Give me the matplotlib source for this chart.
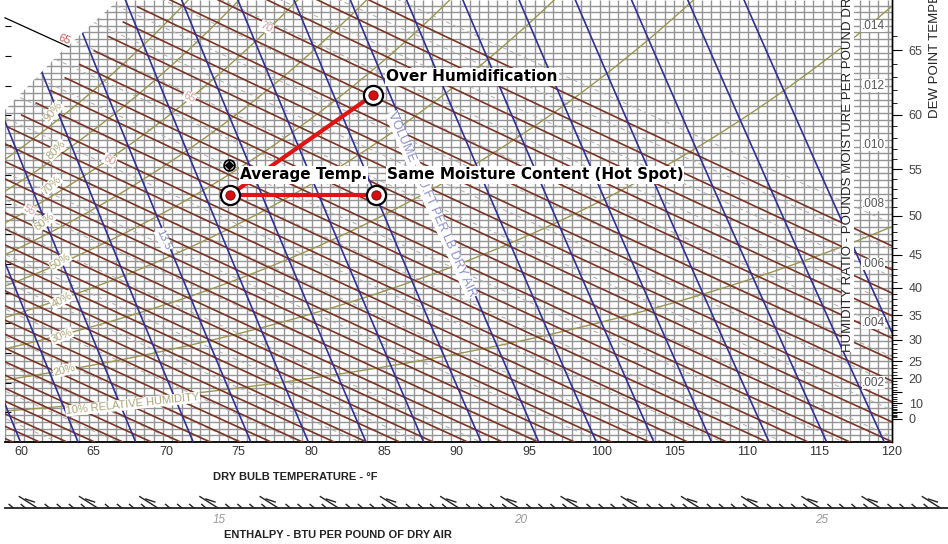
import numpy as np
import matplotlib.pyplot as plt
from matplotlib.collections import LineCollection
from matplotlib.patches import Polygon

plt.rcParams['font.family'] = ['Liberation Sans Narrow', 'Liberation Sans', 'DejaVu Sans']

# ---- values ----
t_min, t_max = 58.9, 120.0          # dry bulb range, F
w_min, w_max = 0.0, 0.01488         # humidity ratio range

dry_bulb_ticks = [60, 65, 70, 75, 80, 85, 90, 95, 100, 105, 110, 115, 120]
hum_ticks = [0.002, 0.004, 0.006, 0.008, 0.010, 0.012, 0.014]
hum_labels = ['.002', '.004', '.006', '.008', '.010', '.012', '.014']
dew_major = [0, 5, 10, 15, 20, 25, 30, 35, 40, 45, 50, 55, 60, 65]
dew_labels = ['0', '', '10', '', '20', '25', '30', '35', '40', '45', '50', '55', '60', '65']
enth_labels = [15, 20, 25]

# white corner above the saturation edge
sat_edge_T = [58.9, 62.5, 66.7]
sat_edge_w = [0.01118, 0.0130, 0.01488]

rh_levels = [0.1, 0.2, 0.3, 0.4, 0.5, 0.6, 0.7, 0.8, 0.9]
wet_bulb_levels = list(range(30, 74))
volume_levels = [13.0, 13.1, 13.2, 13.3, 13.4, 13.5, 13.6, 13.7, 13.8,
                 13.9, 14.0, 14.1, 14.2, 14.3, 14.4, 14.5, 14.6, 14.7]
enthalpy_levels = list(range(12, 38))

rh_text = ['90%', '80%', '70%', '60%', '50%', '40%', '30%', '20%', '10% RELATIVE HUMIDITY']
rh_text_T = [62.2, 62.4, 62.1, 61.6, 62.7, 62.8, 62.8, 63.0, 67.7]
rh_text_w = [0.01111, 0.00983, 0.00865, 0.00741, 0.00609, 0.00478, 0.00357, 0.00242, 0.00128]
rh_text_rot = [50, 45, 42, 38, 32, 28, 22, 15, 6]

wb_text = ['55', '60', '65', '70']
wb_text_T = [60.6, 66.1, 71.6, 76.9]
wb_text_w = [0.00781, 0.0095, 0.01162, 0.01397]

# process states
avg_T, avg_w = 74.4, 0.00832
hot_T, hot_w = 84.45, 0.00832
hum_T, hum_w = 84.25, 0.01168
probe_T, probe_w = 74.3, 0.00933

P_ATM = 14.696


def p_sat(t):
    tc = (np.asarray(t, float) - 32) / 1.8
    water = 6.112 * np.exp(17.62 * tc / (243.12 + tc))
    ice = 6.112 * np.exp(22.46 * tc / (272.62 + tc))
    return np.where(tc >= 0, water, ice) * 0.0145038


def w_sat(t):
    ps = p_sat(t)
    return 0.622 * ps / (P_ATM - ps)


fig = plt.figure(figsize=(9.48, 5.44), dpi=100)
ax = fig.add_axes([5 / 948, 102 / 544, 887 / 948, 442 / 544])
ax.set_xlim(t_min, t_max)
ax.set_ylim(w_min, w_max)

region = Polygon(list(zip([t_min, t_max, t_max] + sat_edge_T[::-1],
                          [0, 0, w_max] + sat_edge_w[::-1])),
                 closed=True, facecolor='none', edgecolor='none')
ax.add_patch(region)


def add_family(segs, **kw):
    lc = LineCollection(segs, **kw)
    ax.add_collection(lc)
    lc.set_clip_path(region)
    return lc


tt = np.linspace(50, 125, 200)

# background grid
gx = np.arange(t_min, t_max, 0.64)
gy = np.arange(0, w_max, 0.000226)
add_family([[(x, 0), (x, w_max)] for x in gx] + [[(t_min, y), (t_max, y)] for y in gy],
           colors='#949494', linewidths=1.0, zorder=1)

# enthalpy (dashed)
add_family([np.column_stack([tt, (h - 0.240 * tt) / (1061 + 0.444 * tt)]) for h in enthalpy_levels],
           colors='#b4b4b4', linewidths=0.8, linestyles=(0, (4, 3)), zorder=2)

# relative humidity
rh_segs = []
for phi in rh_levels:
    ps = p_sat(tt)
    rh_segs.append(np.column_stack([tt, 0.622 * phi * ps / (P_ATM - phi * ps)]))
add_family(rh_segs, colors='#9a9650', linewidths=1.0, zorder=3)

# wet bulb
wb_segs = []
for twb in wet_bulb_levels:
    t = np.linspace(twb, 130, 60)
    w = ((1093 - 0.556 * twb) * w_sat(twb) - 0.240 * (t - twb)) / (1093 + 0.444 * t - twb)
    wb_segs.append(np.column_stack([t, w]))
add_family(wb_segs, colors='#7a3424', linewidths=1.2, zorder=4)

# specific volume
add_family([np.column_stack([tt, (v * P_ATM / (0.370486 * (tt + 459.67)) - 1) / 1.6078])
            for v in volume_levels],
           colors='#2f2f9c', linewidths=1.2, zorder=5)

# wet bulb scale leader
ax.plot([58.9, 63.3], [0.01428, 0.0133], color='black', lw=0.9, zorder=6, clip_on=False)
ax.text(63.0, 0.01356, '65', color='#cc5a5a', fontsize=8, rotation=-22,
        ha='center', va='center', zorder=7)

# labels on the chart
wht = dict(facecolor='white', edgecolor='none', pad=0.4)
for s, t, w, r in zip(rh_text, rh_text_T, rh_text_w, rh_text_rot):
    ax.text(t, w, s, fontsize=8, color='#aaa577', rotation=r, ha='center', va='center',
            bbox=wht, zorder=7)
for s, t, w in zip(wb_text, wb_text_T, wb_text_w):
    ax.text(t, w, s, fontsize=8, color='#d99a9a', rotation=-28, ha='center', va='center',
            bbox=wht, zorder=7)
ax.text(69.8, 0.0068, '13.5', fontsize=8, color='#8088c4', rotation=-65,
        ha='center', va='center', bbox=wht, zorder=7)
ax.text(88.3, 0.00798, 'VOLUME - CU.FT PER LB DRY AIR', fontsize=9, color='#8a90c8',
        rotation=-66, ha='center', va='center', bbox=wht, zorder=7)

# process lines and points
red = '#e01414'
ax.plot([avg_T, hot_T], [avg_w, hot_w], color=red, lw=3, zorder=8, solid_capstyle='butt')
ax.plot([avg_T, hum_T], [avg_w, hum_w], color=red, lw=3, zorder=8, solid_capstyle='butt')
pt_T = [avg_T, hot_T, hum_T]
pt_w = [avg_w, hot_w, hum_w]
ax.scatter(pt_T, pt_w, s=190, facecolor='white', edgecolor='black', linewidth=1.6, zorder=10)
ax.scatter(pt_T, pt_w, s=45, facecolor='#d41010', edgecolor='#7a0000', linewidth=0.6, zorder=11)
ax.scatter([probe_T], [probe_w], s=60, facecolor='white', edgecolor='black', linewidth=1.3, zorder=10)
ax.scatter([probe_T], [probe_w], s=16, marker='D', color='black', zorder=11)

bold = dict(fontsize=11, fontweight='bold', family=['DejaVu Sans'],
            ha='left', va='center', zorder=12,
            bbox=dict(facecolor='white', edgecolor='none', pad=0.8))
ax.text(85.14, 0.01229, 'Over Humidification', **bold)
ax.text(75.1, 0.00899, 'Average Temp.', **bold)
ax.text(85.2, 0.00899, 'Same Moisture Content (Hot Spot)', **bold)

# axes styling
for side in ['left', 'top']:
    ax.spines[side].set_visible(False)
ax.spines['bottom'].set_linewidth(1.3)
ax.spines['right'].set_linewidth(1.0)
ax.set_xticks(dry_bulb_ticks)
ax.tick_params(axis='x', length=0, pad=3, labelsize=9, labelcolor='#333333')
ax.yaxis.set_ticks_position('right')
ax.set_yticks(np.arange(0.001, 0.0145, 0.001))
ax.tick_params(axis='y', direction='in', length=4, labelright=False)
for w, s in zip(hum_ticks, hum_labels):
    ax.text(119.5, w, s, fontsize=8.5, color='#555555', ha='right', va='center',
            bbox=dict(facecolor='white', edgecolor='none', pad=0.2), zorder=9)

ax2 = ax.twinx()
ax2.set_ylim(w_min, w_max)
for side in ['left', 'top', 'bottom']:
    ax2.spines[side].set_visible(False)
ax2.spines['right'].set_linewidth(1.0)
ax2.set_yticks(w_sat(dew_major))
ax2.set_yticklabels(dew_labels)
ax2.set_yticks(w_sat(np.arange(0, 67)), minor=True)
ax2.tick_params(axis='y', which='major', direction='out', length=7, pad=5,
                labelsize=9, labelcolor='#444444')
ax2.tick_params(axis='y', which='minor', direction='out', length=3.5)

fig.text(848 / 948, (544 - 352) / 544, 'HUMIDITY RATIO - POUNDS MOISTURE PER POUND DRY AIR',
         rotation=90, ha='center', va='bottom', fontsize=9.5, color='#222222',
         bbox=dict(facecolor='white', edgecolor='none', pad=0.3))
fig.text(935 / 948, (544 - 118) / 544, 'DEW POINT TEMPERATURE - \u00b0F',
         rotation=90, ha='center', va='bottom', fontsize=9.5, color='#222222')
fig.text(295 / 948, (544 - 477) / 544, 'DRY BULB TEMPERATURE - \u00b0F',
         ha='center', va='center', fontsize=8, fontweight='bold', color='#222222')

# enthalpy scale
axh = fig.add_axes([0, 36 / 544, 1, 12 / 544])
axh.set_xlim(15 - 218 / 60.2, 15 + 730 / 60.2)
axh.set_ylim(0, 1)
axh.axis('off')
h_left = 15 - 213 / 60.2
axh.plot([h_left, 27.2], [0, 0], color='#222222', lw=1.3, clip_on=False)
for h in np.arange(11.6, 27.2, 0.2):
    hr = round(h, 1)
    if abs(hr - round(hr)) < 1e-6:
        axh.plot([hr - 0.3, hr], [0.95, 0], color='#222222', lw=1.0, clip_on=False)
        axh.plot([hr - 0.2, hr - 0.05], [0.75, 0.5], color='#222222', lw=1.0, clip_on=False)
    elif abs(hr * 2 - round(hr * 2)) < 1e-6:
        axh.plot([hr - 0.17, hr], [0.55, 0], color='#222222', lw=1.0, clip_on=False)
    else:
        axh.plot([hr - 0.07, hr], [0.3, 0], color='#222222', lw=1.0, clip_on=False)
for h in enth_labels:
    axh.text(h + 0.02, -1.0, str(h), fontsize=8.5, style='italic', color='#999999',
             ha='center', va='center')
fig.text(338 / 948, (544 - 535) / 544, 'ENTHALPY - BTU PER POUND OF DRY AIR',
         ha='center', va='center', fontsize=8, fontweight='bold', color='#222222')

fig.savefig('out.png', dpi=100, facecolor='white')
